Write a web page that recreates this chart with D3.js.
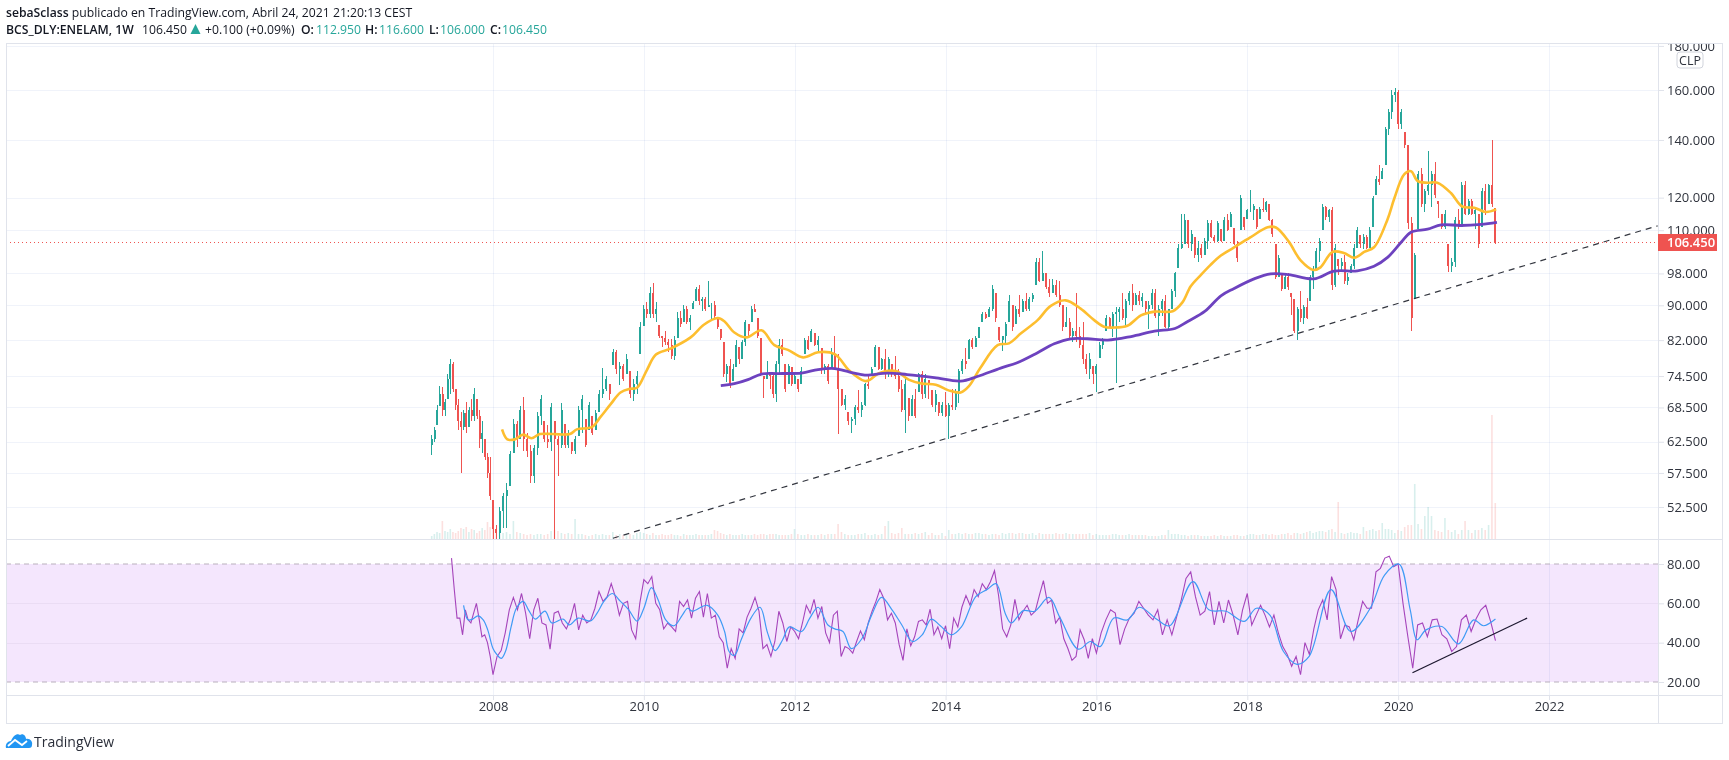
<!DOCTYPE html>
<html>
<head>
<meta charset="utf-8">
<title>BCS_DLY:ENELAM</title>
<script src="https://cdnjs.cloudflare.com/ajax/libs/d3/7.8.5/d3.min.js"></script>
<style>
  html, body { margin: 0; padding: 0; background: #fff; overflow: hidden }
  svg { display: block }
  text { font-family: "Open Sans", sans-serif }
  .axis text { font-size: 13px; fill: #2f333d }
  .axis line { stroke: #e0e3eb }
  .axis path { display: none }
</style>
</head>
<body>
<svg id="chart" width="1729" height="760"></svg>
<script>
// every candle row is [high, low, close, volume], open is the close before it
var candles2007 = [[63.7,60.3,63,3],[65,62.5,64.5,5],[69,65.3,68,7],[72.5,68.8,71,6],[72.3,67,68,18],[70,67,69.5,8],[75,70,74,7],[78,71,77,10],
  [77.4,71.3,72,7],[72,68,69,6],[70,64.5,66,8],[67.7,57.5,65,11],[68,64.5,67.5,10],[69.5,64,65,12],[68.5,65,68,7],[70,66,67,10],
  [72.2,66,71,9],[70,66.5,67,6],[68,61.5,63,8],[66,60.7,64,11],[63,59.5,60,9],[60.7,56.7,57.5,17],[60,53.5,54,12]];
var candles2008 = [[53.5,48.2,49.5,14],[50,48.2,49,9],[52.5,48.2,52,7],[54.5,49.7,54,6],[56,49.7,55,7],[61,55.5,60.5,5],[66.5,60.7,65.5,18],[66,61.6,63,7],
  [68.8,63,68,6],[70.4,61,63,5],[64,60,61,4],[62,56,57,5],[62,56,61.5,4],[67.7,60.3,67,5],[70.8,65.3,70,5],[66,62.5,63,4],
  [65.4,61.4,62.5,5],[69.4,61,68.5,8],[66,48.2,63,9],[63.4,57,62,8],[69.4,61.4,68,6],[65.6,61.4,62,5],[64.5,61.4,64,6],[62.5,60.5,61,5],
  [63.5,60.5,63,20],[68.8,63.4,68,5],[70.8,64,70,5],[66.5,61.6,62,4],[69.5,64.5,69,3],[67,63.7,64,4],[68,64.5,67.5,5],[71.8,67.6,71,4],
  [76.2,70.2,72,5],[74.5,71.5,74,4],[73,69.8,71,4],[80,76.8,79.5,7],[79.8,75,76,4],[77.4,72.8,76.5,5],[77,73.5,74,4],[79,75,78,4],
  [75.6,70.2,71,5],[74,69.6,73,4],[75.5,71,74.5,6],[86,79,85,7]];
var candles2010 = [[90,85.2,89,6],[90.8,87,88,5],[94.6,87,93,4],[95.4,87,88,6],[90.7,86,89,4],[85.3,82.4,83,4],[83,80.5,82.5,5],[84,81,81.5,4],
  [82.2,79.5,81,4],[82.3,78,78.5,5],[83,77.8,82,4],[88.3,82.5,87,4],[88.6,85,85.5,3],[90,86,89,5],[89.8,85.5,86,4],[87.8,84.2,87,4],
  [91,89,90.5,4],[94.6,91,94,5],[95,90,91,4],[92,88.6,91.5,4],[92,88.6,89,4],[96,89.5,90,4],[90.5,86.5,90,5],[91,87,87.5,9],
  [87,84.4,85,8],[84.4,82,82.5,6],[81.6,74.3,75,5],[77,73.3,76.5,4],[78,72.2,73,5],[77,73.5,76,4],[82,76.3,81,4],[80.5,77,78,4],
  [82,78,81.5,5],[86.5,80.8,86,4],[85.7,83,84,4],[89.8,86,89,4],[90.4,88.3,88.5,5],[87,82.4,83,4],[82.4,74.6,75,5],[74.6,70.2,74,5],
  [77.5,74,75,4],[75,72,74.5,5],[75,70.2,71,5],[77.5,69.5,77,5],[82.3,75,81,4],[82.3,78.5,79,4],[77,71.3,72,4],[77,73,76.5,4],[76.3,72.5,73,5]];
var candles2012 = [[75,73,74.5,10],[74,71.3,72,5],[76.3,73,75.5,4],[82.5,79,82,4],[83,79.8,80,5],[84.4,81.6,84,4],[83.5,80.7,81,4],[83,79.5,82,4],
  [80.3,75,76,5],[77,75,76.5,4],[77,73,73.5,5],[80.3,76,79,5],[83,75.7,76,5],[79,63.8,72,15],[72,68.8,69,7],[70.8,68,70,5],
  [67.7,65.3,66,4],[66.8,64,66.5,4],[69,65.3,68.5,4],[71.8,67.5,68,5],[69.5,66.7,69,5],[73.2,68.8,73,6],[75,71.9,72.5,4],[76.3,74.5,76,4],
  [81,76.3,80.5,5],[80.5,75.7,76,4],[78.2,75.7,78,5],[80,74,75,13],[78.3,74.3,78,18],[77,74.3,75,6],[78.5,74,74.5,5],[76,71.3,72,6],
  [73.8,67.6,68,11],[74.3,64,73,5],[70.2,66,67,5],[70.8,67,70,5],[72,66.6,67,6],[75.2,71.3,75,5],[75.6,70,71,6],[75,70.2,74,7],
  [73.8,70,73,4],[71.8,68.5,69,6],[71.8,67.6,71,4],[69.5,67,67.5,4],[69.5,67,69,6]];
var candles2014 = [[71.3,66.7,67,3],[69.4,62.9,69,9],[72,68,68.5,5],[72,68,71.5,5],[76,69.4,75.5,6],[78,75,77.5,5],[80.3,76,77,6],[82.2,78,82,5],
  [82.4,80,80.5,5],[83,80.5,82.5,6],[85,82.4,85,6],[88.3,86,88,5],[88.3,86.7,87,5],[89.6,87.3,89,4],[95,88.6,94,5],[93,86,87,5],
  [85,81.6,82,4],[83,79.7,83,6],[86,81,85.5,5],[92.4,86,91,6],[90,84,85,6],[89.8,85.6,89,5],[92.4,87.3,88,6],[91.6,88.5,91,6],
  [93,88.7,89,5],[92,88.7,91.5,5],[93,90.7,92.5,6],[102,95,101,4],[102,95.8,96,6],[104,96,98,5],[98,94,94.5,5],[96.6,92,93,5],
  [96.6,93,95,5],[96.3,92,92.5,6],[96,89.5,90,5],[90,84,85,5],[89.5,85,86,6],[87,82.4,83,5],[84.6,81.7,84,5],[93,81.6,83,5],
  [85,80.2,81,5],[86,77,78,5],[79,75,76,5],[79.3,74,78,6],[76.5,73,75,4]];
var candles2016 = [[77,71.3,76.5,5],[81.5,78.2,81,4],[82.4,80,82,4],[87.6,84,87,4],[87.3,84.6,85,4],[88.4,82.8,88,5],[89.5,73.2,88.5,5],[89.6,86,89,4],
  [93,86.5,87,4],[91.6,85,91,4],[93.5,90,93,5],[95.2,88.6,90,4],[93,90,92.5,4],[93.5,90,91,4],[93,89.5,92,4],[91,88,89,4],
  [91,84.5,90,3],[94,89,93,3],[94,86.9,87.5,3],[90,83,89,3],[91.5,87.5,91,4],[92.4,84.6,85,4],[89.2,84,89,9],[94,89,93.5,5],
  [98.3,92,98,5],[106,99.5,105,5],[115,104.6,106,4],[115,106,113,4],[113,105,106,3],[110,104,109,4],[108,102,103,4],[107,101,105,4],
  [106,102,103,3],[107.7,103,107,3],[113,104.5,112,3],[113,107.7,108,3],[108.7,106.2,107,4],[112.7,106.5,112,3],[110.3,106.5,107,4],[114,106.8,113,3],
  [114.8,109.7,110,3],[115.4,111,115,3],[110.8,105.6,106,4],[107,101,102,4],[121,110,120,3],[114,110,111,3]];
var candles2018 = [[116.3,113.3,116,4],[122.5,115.5,116,5],[118,113,117.5,5],[116.3,110.3,111,4],[117,113.3,116.5,4],[120,115.5,116,5],[119,115.5,118.5,5],[118,112.7,113,4],
  [113.3,108,109,5],[106,96.6,97,4],[103,97,102,4],[98,93.5,94,5],[98,94,97,5],[98,93.8,94.5,6],[93,87.8,92,4],[91.5,83.6,84,6],
  [89.5,82,89,6],[93.5,86,87,5],[90,85.5,89.5,6],[91.8,86.8,87,7],[97.5,91,97,8],[100,94,99,6],[104.8,98.8,104,7],[107.7,101,107,8],
  [118,110,117,8],[117.5,113,114,7],[116.3,112.5,116,9],[117,93.8,95,10],[106,94.6,105,7],[101.9,97.7,100,37],[102,98.5,101,6],[103,95.3,96,5],
  [98,95,97,6],[100.5,98,100,7],[106,99.2,105,6],[111,105,110,6],[108.5,105,106,5],[109,104.5,108,12],[108.5,104.5,105,8],[111,105,110,9],
  [120.5,111,120,10],[127,121,126,8],[131,124,125,9],[130,126,129,16],[145,131,144,10],[152,142,151,10],[160,148,158,9],[161,155,159,6]];
var candles2020 = [[160,144,146,9],[152,144,151,8],[143,137,138,12],[138,110.5,112,14],[114,84,87,14],[103.6,91.6,103,55],[129,110.5,128,15],[129.8,117,118,10],
  [122.7,115.5,122,23],[136,121,124,32],[129,117,128,23],[132,120,121,9],[119,113.5,118,8],[115,110.3,111,7],[116,110.3,115,21],[106,98.3,100,9],
  [102,98.5,101,7],[114,99.6,113,9],[116.3,110.3,111,5],[125,111,124,9],[125.5,114.5,115,18],[119.5,114.5,119,9],[119.5,114.5,115,6],[116.3,110.5,116,9],
  [115,104.8,106,9],[123,111,122,11],[124.5,114.5,116,9],[124.5,118,124,14],[140,116.9,118,124],[116.6,106,106.45,36]];

var candleBlocks = [candles2007, candles2008, candles2010, candles2012, candles2014, candles2016, candles2018, candles2020];
var candleSpans = [[2007.19,2008],[2008,2010],[2010,2012],[2012,2014],[2014,2016],[2016,2018],[2018,2020],[2020,2021.335]];

var rsi2007 = [83,67,52.5,52.5,44,56.7,51.6,50,55,60,52,43,44,40,33];
var rsi2008 = [23.7,33,36,45,56.7,63,56.7,65,55,42,56.7,62.6,50,49,36.7,55,56,50,47,52,60,46.5,54,50,51.6,57.5,66,61,63.4,70,63.4,54,60,61,46.5,42,60];
var rsi2010 = [72,70,73.6,60,56.7,47,50,48,45.7,61,58.4,61.7,52.5,62.6,66,53,65,52.5,54,43,40,27,37,32,47,45,53,57.5,63,56,37,39,33,40.6,56,50,40.6,48];
var rsi2012 = [45.7,42,50,59,55,62,52.5,58.4,45,40,54,56,33,38,37,34.7,40.6,46,41.5,50,56,61,67,62.6,51.6,55,50,39,31,47,38.4,43,50.8,51.6,49,57,44,48,42];
var rsi2014 = [48.6,37,52.5,48,58,64,59,67,63.4,70,67,71,76.6,64,47,43,49,62,51.6,56,59,54,56,64,71.5,60,61.7,50,53,42,37,31,33,46.5,41.5,32,42];
var rsi2016 = [34.7,45,51.6,56.7,55,39,47,52.5,55,61,57.5,54,51.6,56.7,44,51.6,44,53,61.7,72.7,76,63.4,54,56,66,49,61,50,61.7,54,44,56.7];
var rsi2018 = [65,49,54,59,54,48,54,45,38,34,28,33,23.7,40,34,47,56.7,61.7,51.6,73.6,67,42,49,48,41.5,51.6,61,57.5,57.5,76,77.8,83,84,78.6];
var rsi2020 = [80,60,43,27,49,50,43,51.6,52,44,42,35.5,38,51.6,54,45.7,52,56.7,59,50.8,41];

var rsiBlocks = [rsi2007, rsi2008, rsi2010, rsi2012, rsi2014, rsi2016, rsi2018, rsi2020];
var rsiSpans = [[2007.45,2008],[2008,2010],[2010,2012],[2012,2014],[2014,2016],[2016,2018],[2018,2020],[2020,2021.355]];

var rsiMa = [[2007.61,59],[2007.67,51.6],[2007.73,52],[2007.80,53.6],[2007.87,51.6],[2007.93,46.5],[2008,37],[2008.05,34],[2008.11,32],[2008.17,36],[2008.24,48],[2008.31,57.5],
  [2008.40,61],[2008.47,56.7],[2008.56,52],[2008.69,56],[2008.78,50],[2008.93,52],[2009.01,49],[2009.13,52.5],[2009.29,51],[2009.38,55],[2009.47,61],[2009.58,65],
  [2009.69,61],[2009.80,56.7],[2009.91,51],[2010,57.5],[2010.10,68],[2010.19,61.7],[2010.29,51.6],[2010.40,48.6],[2010.51,54],[2010.58,57.5],[2010.64,56],[2010.84,59],
  [2010.98,54],[2011.07,45.7],[2011.13,35.5],[2011.20,33.5],[2011.29,41.5],[2011.42,52.5],[2011.54,58],[2011.64,45],[2011.74,36],[2011.84,41.5],[2011.93,48],[2012.09,45.7],
  [2012.20,52.5],[2012.31,58],[2012.44,49],[2012.53,47],[2012.64,45.7],[2012.75,37],[2012.89,42],[2013.02,54],[2013.15,63],[2013.29,56.7],[2013.42,49],[2013.56,40.6],
  [2013.69,44],[2013.81,52],[2013.93,48.6],[2014.08,44],[2014.21,48],[2014.40,63.4],[2014.55,67],[2014.67,70],[2014.79,55],[2014.87,50],[2015.03,56.3],[2015.18,56],
  [2015.37,63],[2015.52,52.5],[2015.76,36.7],[2015.92,40.6],[2016.05,38],[2016.23,52.5],[2016.41,51.6],[2016.57,58],[2016.81,51.6],[2016.97,48.6],[2017.28,71],[2017.49,56.7],
  [2017.72,56],[2017.96,50.8],[2018.12,57.5],[2018.30,54],[2018.48,35.5],[2018.66,29],[2018.82,33],[2019.11,67],[2019.37,45.7],[2019.63,57.5],[2019.82,74.4],[2020.01,80],
  [2020.16,56.7],[2020.25,41.5],[2020.37,46.5],[2020.58,48.2],[2020.80,39.4],[2021.0,51.6],[2021.13,48.6],[2021.29,52]];

var fastMa = [[2008.12,64.6],[2008.19,62.9],[2008.29,62.9],[2008.40,63.7],[2008.51,63.1],[2008.62,63.8],[2008.80,63.8],[2009.02,63.8],[2009.11,64.6],[2009.31,65],[2009.42,66.7],[2009.56,69.1],
  [2009.69,71.3],[2009.82,72],[2009.91,72.2],[2010.04,75.7],[2010.16,78.9],[2010.36,80.2],[2010.62,82.6],[2010.80,85.5],[2010.98,87],[2011.07,86.2],[2011.20,83.7],[2011.36,82.6],
  [2011.56,84.2],[2011.73,80.9],[2011.91,79.9],[2012.11,78.3],[2012.31,79.4],[2012.53,79],[2012.73,75.5],[2012.93,73.5],[2013,73.8],[2013.11,75],[2013.34,75.5],[2013.51,73.8],
  [2013.69,73],[2013.87,72.8],[2014.04,71.7],[2014.20,71.3],[2014.31,72.5],[2014.46,76.1],[2014.69,80.9],[2014.84,81.3],[2015,83.5],[2015.22,86.5],[2015.39,89.8],[2015.59,91.2],
  [2015.79,89.2],[2015.97,86.5],[2016.10,85],[2016.23,84.8],[2016.41,85.2],[2016.59,87.6],[2016.77,88.5],[2017.01,88.6],[2017.14,90.7],[2017.25,94.7],[2017.38,97.5],[2017.51,100.2],
  [2017.65,102.8],[2017.82,105],[2018.04,107.9],[2018.27,110.9],[2018.38,110.8],[2018.55,106.7],[2018.71,101.4],[2018.88,98.9],[2018.97,99.6],[2019.13,103.8],[2019.28,103.5],[2019.42,102.2],
  [2019.55,103.8],[2019.68,105.1],[2019.86,113.3],[2019.95,119.8],[2020.08,127.7],[2020.17,128.8],[2020.26,125.4],[2020.39,124.9],[2020.52,124.9],[2020.70,121.5],[2020.85,117.2],[2021.01,116.8],
  [2021.16,115.5],[2021.30,116.3]];

var slowMa = [[2011.02,72.6],[2011.20,73],[2011.38,73.8],[2011.56,74.9],[2011.78,75],[2012.09,75.1],[2012.31,75.8],[2012.53,76],[2012.73,75.3],[2012.93,74.7],[2013.23,75.1],[2013.49,74.8],
  [2013.85,74.2],[2014.20,73.5],[2014.42,74.4],[2014.73,76.1],[2014.95,77.2],[2015.22,79.3],[2015.44,81.2],[2015.66,82.3],[2015.88,82.3],[2016.15,82],[2016.46,82.8],[2016.77,84],
  [2017.04,84.6],[2017.21,86.2],[2017.44,88.6],[2017.65,92.3],[2017.82,94.1],[2018.09,96.6],[2018.31,97.9],[2018.55,97.7],[2018.88,96.6],[2019.15,98.6],[2019.46,98.7],[2019.68,99.9],
  [2019.86,102.3],[2020.04,106.5],[2020.17,109.4],[2020.39,110.3],[2020.57,111.6],[2020.83,111.4],[2021.10,111.7],[2021.31,112.3]];

var priceTrend = [[2009.59,48.3],[2023.44,111.3]];
var rsiTrend = [[2020.19,24.7],[2021.71,52.5]];

var priceTicks = [180,160,140,120,110,98,90,82,74.5,68.5,62.5,57.5,52.5];
var rsiTicks = [20,40,60,80];
var yearTicks = [2008,2010,2012,2014,2016,2018,2020,2022];
var lastPrice = 106.45;

var green = "#26a69a", red = "#ef5350", ink = "#131722";
var frame = {left: 6, top: 43, right: 1722, bottom: 723, plotRight: 1658, mainBottom: 539, rsiBottom: 695};

var svg = d3.select("#chart");

var x = d3.scaleLinear().domain([2008, 2022]).range([493, 1549]);
var yPrice = d3.scaleLog().domain([160, 52.5]).range([90, 507]);
var yRsi = d3.scaleLinear().domain([80, 20]).range([564, 682]);
var yVol = d3.scaleLinear().domain([0, 124]).range([539, 415]);

var defs = svg.append("defs");
defs.append("clipPath").attr("id", "mainClip").append("rect")
    .attr("x", frame.left).attr("y", frame.top)
    .attr("width", frame.plotRight - frame.left).attr("height", frame.mainBottom - frame.top);
defs.append("clipPath").attr("id", "rsiClip").append("rect")
    .attr("x", frame.left).attr("y", frame.mainBottom)
    .attr("width", frame.plotRight - frame.left).attr("height", frame.rsiBottom - frame.mainBottom);
defs.append("clipPath").attr("id", "priceAxisClip").append("rect")
    .attr("x", 0).attr("y", frame.top + 1)
    .attr("width", 80).attr("height", frame.mainBottom - frame.top);

// flatten the blocks, each block is spread evenly over its span of years
var candles = [];
candleBlocks.forEach(function(block, b) {
    var span = candleSpans[b];
    block.forEach(function(row, j) {
	candles.push({year: span[0] + (span[1] - span[0]) * j / block.length,
		      high: row[0], low: row[1], close: row[2], volume: row[3]});
    });
});
candles.forEach(function(c, i) {
    var prev = i ? candles[i - 1].close : c.close - 1;
    c.open = Math.max(c.low, Math.min(c.high, prev));
    c.up = c.close >= prev;
});

var rsi = [];
rsiBlocks.forEach(function(block, b) {
    var span = rsiSpans[b];
    block.forEach(function(v, j) {
	rsi.push([span[0] + (span[1] - span[0]) * j / block.length, v]);
    });
});

// grid
var grid = svg.append("g").attr("stroke", "#f0f3fa").attr("fill", "none");
grid.selectAll(".h").data(priceTicks).enter().append("line")
    .attr("x1", frame.left).attr("x2", frame.plotRight)
    .attr("y1", function(d) { return Math.round(yPrice(d)) + .5 })
    .attr("y2", function(d) { return Math.round(yPrice(d)) + .5 });

// rsi band goes under its grid lines
svg.append("rect")
    .attr("x", frame.left).attr("width", frame.plotRight - frame.left)
    .attr("y", yRsi(80)).attr("height", yRsi(20) - yRsi(80))
    .attr("fill", "#f4e6fd");

var rsiGrid = svg.append("g").attr("stroke", "#eadcf4");
rsiGrid.selectAll("line").data([40, 60]).enter().append("line")
    .attr("x1", frame.left).attr("x2", frame.plotRight)
    .attr("y1", function(d) { return Math.round(yRsi(d)) + .5 })
    .attr("y2", function(d) { return Math.round(yRsi(d)) + .5 });

svg.append("g").selectAll("line").data(yearTicks).enter().append("line")
    .attr("stroke", "#f0f3fa")
    .style("mix-blend-mode", "multiply")
    .attr("x1", function(d) { return Math.round(x(d)) + .5 })
    .attr("x2", function(d) { return Math.round(x(d)) + .5 })
    .attr("y1", frame.top).attr("y2", frame.rsiBottom);

svg.append("g").attr("stroke", "#b9b0bd").attr("stroke-dasharray", "5 4")
    .selectAll("line").data([80, 20]).enter().append("line")
    .attr("x1", frame.left).attr("x2", frame.plotRight)
    .attr("y1", function(d) { return yRsi(d) }).attr("y2", function(d) { return yRsi(d) });

var main = svg.append("g").attr("clip-path", "url(#mainClip)");
var rsiPane = svg.append("g").attr("clip-path", "url(#rsiClip)");

// last price line
main.append("line")
    .attr("x1", frame.left).attr("x2", frame.plotRight)
    .attr("y1", yPrice(lastPrice)).attr("y2", yPrice(lastPrice))
    .attr("stroke", red).attr("stroke-dasharray", "1 3");

// volume
main.append("g").selectAll("rect").data(candles).enter().append("rect")
    .attr("x", function(d) { return x(d.year) - 1 })
    .attr("width", 1.6)
    .attr("y", function(d) { return yVol(d.volume) })
    .attr("height", function(d) { return yVol(0) - yVol(d.volume) })
    .attr("fill", function(d) { return d.up ? green : red })
    .attr("opacity", .18);

// candles
var candle = main.append("g").attr("shape-rendering", "crispEdges")
    .selectAll("g").data(candles).enter().append("g")
    .attr("fill", function(d) { return d.up ? green : red })
    .attr("stroke", function(d) { return d.up ? green : red });
candle.append("line")
    .attr("x1", function(d) { return x(d.year) }).attr("x2", function(d) { return x(d.year) })
    .attr("y1", function(d) { return yPrice(d.high) }).attr("y2", function(d) { return yPrice(d.low) })
    .attr("stroke-width", 1);
candle.append("rect")
    .attr("x", function(d) { return x(d.year) - 1 })
    .attr("width", 2)
    .attr("y", function(d) { return yPrice(Math.max(d.open, d.close)) })
    .attr("height", function(d) { return Math.abs(yPrice(d.open) - yPrice(d.close)) })
    .attr("stroke", "none");

var priceLine = d3.line()
    .x(function(d) { return x(d[0]) }).y(function(d) { return yPrice(d[1]) })
    .curve(d3.curveCatmullRom);
var rsiLine = d3.line()
    .x(function(d) { return x(d[0]) }).y(function(d) { return yRsi(d[1]) });

main.append("path").attr("d", priceLine(fastMa)).attr("fill", "none")
    .attr("stroke", "#fdbe2f").attr("stroke-width", 2.6);
main.append("path").attr("d", priceLine(slowMa)).attr("fill", "none")
    .attr("stroke", "#6d42bf").attr("stroke-width", 2.8);
main.append("path").attr("d", priceLine.curve(d3.curveLinear)(priceTrend)).attr("fill", "none")
    .attr("stroke", "#33363f").attr("stroke-width", 1.2).attr("stroke-dasharray", "6 5");

rsiPane.append("path").attr("d", rsiLine(rsi)).attr("fill", "none")
    .attr("stroke", "#a544bb").attr("stroke-width", 1.1);
rsiPane.append("path").attr("d", rsiLine.curve(d3.curveCatmullRom)(rsiMa)).attr("fill", "none")
    .attr("stroke", "#3f9bf5").attr("stroke-width", 1.2);
rsiPane.append("path").attr("d", rsiLine.curve(d3.curveLinear)(rsiTrend)).attr("fill", "none")
    .attr("stroke", "#1d1830").attr("stroke-width", 1.3);

// frame
var lines = svg.append("g").attr("stroke", "#e0e3eb").attr("fill", "none");
lines.append("rect").attr("x", frame.left + .5).attr("y", frame.top + .5)
    .attr("width", frame.right - frame.left).attr("height", frame.bottom - frame.top);
lines.append("line").attr("x1", frame.plotRight + .5).attr("x2", frame.plotRight + .5)
    .attr("y1", frame.top).attr("y2", frame.bottom);
[frame.mainBottom, frame.rsiBottom].forEach(function(y) {
    lines.append("line").attr("x1", frame.left).attr("x2", frame.right)
	.attr("y1", y + .5).attr("y2", y + .5);
});

// axes
var priceAxis = d3.axisRight(yPrice).tickValues(priceTicks).tickFormat(d3.format(".3f")).tickSize(6).tickPadding(3);
svg.append("g").attr("class", "axis").attr("transform", "translate(" + frame.plotRight + ",0)")
    .attr("clip-path", "url(#priceAxisClip)").call(priceAxis);
var rsiAxis = d3.axisRight(yRsi).tickValues(rsiTicks).tickFormat(d3.format(".2f")).tickSize(6).tickPadding(3);
svg.append("g").attr("class", "axis").attr("transform", "translate(" + frame.plotRight + ",0)").call(rsiAxis);
var yearAxis = d3.axisBottom(x).tickValues(yearTicks).tickFormat(d3.format("d")).tickSize(5).tickPadding(2);
svg.append("g").attr("class", "axis").attr("transform", "translate(0," + frame.rsiBottom + ")").call(yearAxis);

// currency badge, sits over the 180 label
svg.append("rect").attr("x", 1677).attr("y", 52).attr("width", 26).attr("height", 16).attr("rx", 3)
    .attr("fill", "#fff").attr("stroke", "#d1d4dc");
svg.append("text").attr("x", 1690).attr("y", 64.5).attr("text-anchor", "middle")
    .attr("font-size", 12.5).attr("fill", "#2f333d").text("CLP");

// last price label
svg.append("rect").attr("x", frame.plotRight).attr("y", yPrice(lastPrice) - 8.5).attr("width", 59).attr("height", 17)
    .attr("fill", red);
svg.append("text").attr("x", 1667).attr("y", yPrice(lastPrice) + 4.5)
    .attr("font-size", 13).attr("font-weight", 600).attr("fill", "#fff").text("106.450");

// header
var headerTop = svg.append("text").attr("x", 6).attr("y", 17).attr("font-size", 12.2).attr("fill", ink);
headerTop.append("tspan").attr("font-weight", 600).text("sebaSclass");
headerTop.append("tspan").text(" publicado en TradingView.com, Abril 24, 2021 21:20:13 CEST");

var headerBits = [
    {x: 6, text: "BCS_DLY:ENELAM, 1W", weight: 600},
    {x: 142, text: "106.450"},
    {x: 205, text: "+0.100 (+0.09%)"},
    {x: 301, text: "O:", weight: 600},
    {x: 316, text: "112.950", color: green},
    {x: 365, text: "H:", weight: 600},
    {x: 379, text: "116.600", color: green},
    {x: 429, text: "L:", weight: 600},
    {x: 440, text: "106.000", color: green},
    {x: 490, text: "C:", weight: 600},
    {x: 502, text: "106.450", color: green}
];
svg.append("g").selectAll("text").data(headerBits).enter().append("text")
    .attr("x", function(d) { return d.x }).attr("y", 34).attr("font-size", 12.2)
    .attr("font-weight", function(d) { return d.weight || 400 })
    .attr("fill", function(d) { return d.color || ink })
    .text(function(d) { return d.text });
svg.append("path").attr("d", "M195.5,24 L200.5,34 L190.5,34 Z").attr("fill", green);

// logo
var logo = svg.append("g").attr("transform", "translate(6,733)");
logo.append("path").attr("fill", "#2196f3")
    .attr("d", "M0,15 C-1,11 2,8 5,8 C7,3 11,0 14,2 C17,0 20,3 20,6 C24,5 27,9 26,12 C26,14 25,15 23,15 Z");
logo.append("path").attr("fill", "none").attr("stroke", "#fff").attr("stroke-width", 1.8)
    .attr("d", "M2,13 L9,7 L16,12 L21,8");
svg.append("text").attr("x", 34).attr("y", 747).attr("font-size", 14).attr("fill", "#2a2e39").text("TradingView");
</script>
</body>
</html>
